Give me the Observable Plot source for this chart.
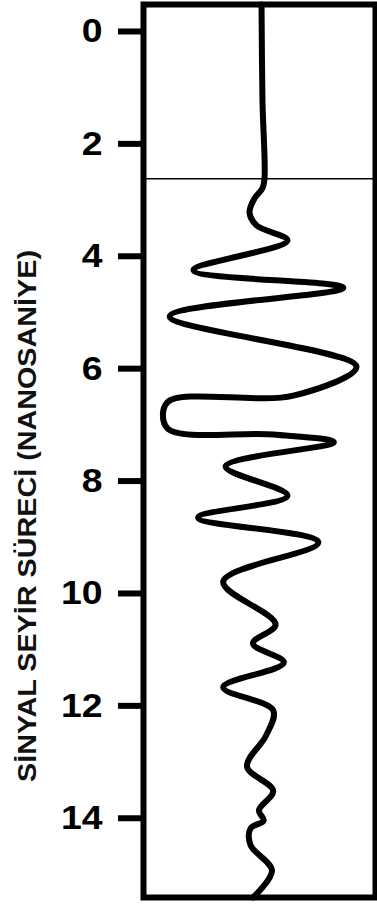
<!DOCTYPE html>
<html>
<head>
<meta charset="utf-8">
<script src="https://cdn.jsdelivr.net/npm/d3@7"></script>
<script src="https://cdn.jsdelivr.net/npm/@observablehq/plot@0.6"></script>
<style>
  html, body { margin: 0; padding: 0; background: #fff; }
</style>
</head>
<body>
<script>
// Two-way travel time (ns) and relative trace amplitude
const times = [-0.48, 1.23, 2.62, 2.79, 2.97, 3.22, 3.45, 3.72, 4.25, 4.56, 5.07, 5.96, 6.48, 6.60, 7.06, 7.17, 7.31, 7.74, 8.26, 8.65, 9.09, 9.79, 10.55, 10.89, 11.23, 11.67, 12.08, 12.53, 13.08, 13.51, 13.86, 14.04, 14.18, 14.48, 14.93, 15.41];
const amps  = [-0.008, 0.0, 0.017, 0.0, -0.067, -0.109, -0.05, 0.21, -0.58, 0.68, -0.78, 0.79, 0.26, -0.80, -0.80, 0.09, 0.60, -0.31, 0.21, -0.54, 0.47, -0.33, 0.11, -0.08, 0.18, -0.33, 0.09, 0.03, -0.13, 0.09, -0.03, 0.01, -0.10, -0.10, 0.08, -0.08];
const tickValues = [0, 2, 4, 6, 8, 10, 12, 14];
const tickLabels = ["0", "2", "4", "6", "8", "10", "12", "14"];
const boundaryTime = [2.62];
const yLabel = "SİNYAL SEYİR SÜRECİ (NANOSANİYE)";

const trace = times.map((t, i) => ({t, a: amps[i]}));

const chart = Plot.plot({
  width: 377,
  height: 911,
  marginLeft: 143,
  marginRight: 2,
  marginTop: 4,
  marginBottom: 14,
  style: {fontFamily: "'Liberation Sans', Arial, sans-serif", background: "white", color: "black"},
  x: {domain: [-1, 0.95], axis: null},
  y: {domain: [-0.48, 15.41], reverse: true, axis: null},
  marks: [
    Plot.ruleY(boundaryTime, {stroke: "black", strokeWidth: 1.6}),
    Plot.line(trace, {x: "a", y: "t", curve: "catmull-rom", stroke: "black", strokeWidth: 6, strokeLinejoin: "round", strokeLinecap: "round"}),
    Plot.axisY(tickValues, {
      tickSize: 25, tickPadding: 16, strokeWidth: 6, stroke: "black", fill: "black",
      fontSize: 34, fontWeight: "bold", label: null,
      tickFormat: d => tickLabels[tickValues.indexOf(d)]
    }),
    Plot.frame({stroke: "black", strokeWidth: 6}),
    Plot.text([yLabel], {frameAnchor: "left", dx: -116, dy: 331, rotate: -90, textAnchor: "start", fontSize: 25, fontWeight: "bold", fill: "#111"})
  ]
});

document.body.append(chart);

d3.select(chart).selectAll("text").each(function () {
  const s = this.textContent;
  if (s === yLabel) {
    this.setAttribute("textLength", 532);
    this.setAttribute("lengthAdjust", "spacingAndGlyphs");
  } else if (tickLabels.includes(s)) {
    const len = this.getComputedTextLength();
    this.setAttribute("textLength", len * 1.1);
    this.setAttribute("lengthAdjust", "spacingAndGlyphs");
  }
});
</script>
</body>
</html>
